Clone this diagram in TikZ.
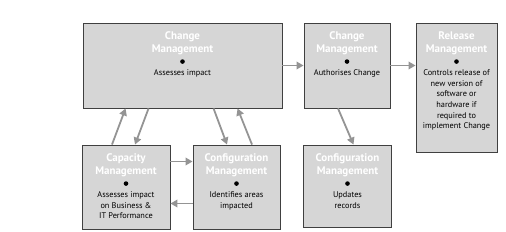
\documentclass[tikz,border=0pt]{standalone}
\usepackage{fontspec}
\setmainfont{PT Sans}
\usetikzlibrary{arrows.meta,calc}
\begin{document}
\begin{tikzpicture}[x=1pt,y=-1pt,
 box/.style={draw=black!75, line width=0.9pt, fill=black!16, inner sep=0pt},
 ttl/.style={anchor=north, align=center, inner sep=0pt, text=white, font=\fontsize{11}{13}\selectfont\bfseries},
 body/.style={anchor=north, align=center, inner sep=0pt, font=\fontsize{8.3}{10.6}\selectfont},
 dot/.style={circle, fill=black, inner sep=0pt, minimum size=4.6pt},
 arr/.style={draw=black!42, line width=1.8pt, -{Triangle[length=7pt,width=7.5pt]}}]
\useasboundingbox (0,0) rectangle (506,231);
% boxes
\node[box, minimum width=199pt, minimum height=85pt] (b1) at (182.5,65.5) {};
\node[box, minimum width=86pt, minimum height=85pt] (b2) at (347,65.5) {};
\node[box, minimum width=81pt, minimum height=129pt] (b3) at (456.5,87.5) {};
\node[box, minimum width=88pt, minimum height=84pt] (b4) at (126,187) {};
\node[box, minimum width=87pt, minimum height=84pt] (b5) at (236.5,187) {};
\node[box, minimum width=88pt, minimum height=82pt] (b6) at (347.5,186) {};
% contents
\foreach \b/\t/\c in {b1/{Change\\Management}/{Assesses impact},
  b2/{Change\\Management}/{Authorises Change},
  b3/{Release\\Management}/{Controls release of\\new version of\\software or\\hardware if\\required to\\implement Change},
  b4/{Capacity\\Management}/{Assesses impact\\on Business \&\\IT Performance},
  b5/{Configuration\\Management}/{Identifies areas\\impacted},
  b6/{Configuration\\Management}/{Updates\\records}}{
  \node[ttl] (t\b) at ([yshift=-8.5pt]\b.north) {\t};
  \node[dot] (d\b) at ([yshift=-39pt]\b.north) {};
  \node[body] (c\b) at ([yshift=-47pt]\b.north) {\c};
}
% connectors
\draw[arr] (b1.east) -- (b1.east -| b2.west);
\draw[arr] (b2.east) -- (b2.east -| b3.west);
\draw[arr] ([xshift=-9pt]b2.south) -- ([xshift=6pt]b6.north);
\draw[arr] ([xshift=-14pt]b4.north) -- ([xshift=43pt]b1.south west);
\draw[arr] ([xshift=66pt]b1.south west) -- ([xshift=9pt]b4.north);
\draw[arr] ([xshift=131pt]b1.south west) -- ([xshift=-9.5pt]b5.north);
\draw[arr] ([xshift=15.5pt]b5.north) -- ([xshift=155pt]b1.south west);
\draw[arr] ([yshift=25.5pt]b4.east) -- ([yshift=25.5pt]b5.west);
\draw[arr] ([yshift=-16.5pt]b5.west) -- ([yshift=-16.5pt]b4.east);
\end{tikzpicture}
\end{document}
